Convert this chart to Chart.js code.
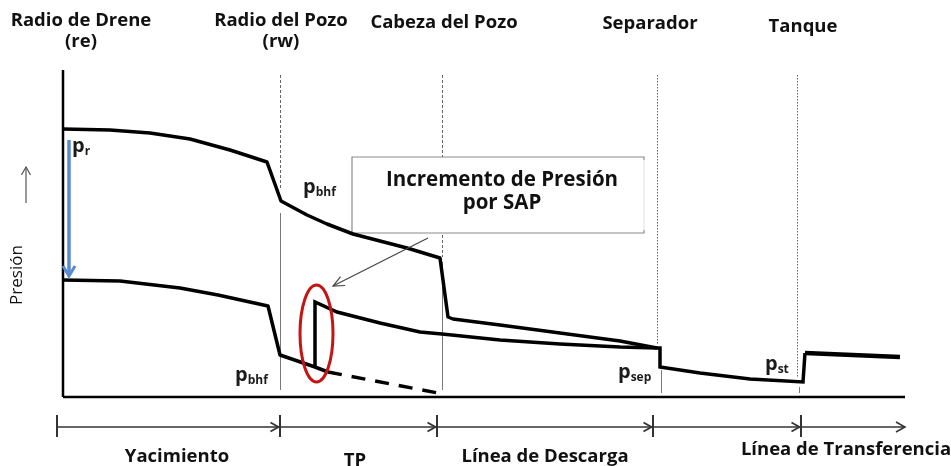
<!DOCTYPE html>
<html>
<head>
<meta charset="utf-8">
<script src="https://cdn.jsdelivr.net/npm/chart.js@4.4.0/dist/chart.umd.min.js"></script>
<style>
  html, body { margin: 0; padding: 0; background: #fff; }
  #wrap { width: 951px; height: 466px; position: relative; }
</style>
</head>
<body>
<div id="wrap"><canvas id="chart"></canvas></div>
<script>
// Pressure profile along the production system
// x = distance along the flow path, y = pressure (arbitrary units)

const stationX = [0, 217, 379, 594, 734];
const stationNames = [['Radio de Drene', '(re)'], ['Radio del Pozo', '(rw)'], ['Cabeza del Pozo'], ['Separador'], ['Tanque']];
const segmentBounds = [-6, 217, 374, 590, 738];
const segmentEnd = 842;
const segmentNames = ['Yacimiento', 'TP', 'Línea de Descarga', 'Línea de Transferencia'];

const distMax = 842;
const presMax = 327;

// upper profile (pr -> pbhf -> wellhead -> separator)
const upperX = [0, 47, 87, 127, 167, 204, 218, 244, 264, 290, 317, 344, 377, 385, 390, 437, 497, 557, 594];
const upperY = [268, 267, 264, 258, 247, 235, 196, 182, 173, 163, 156, 149, 139, 80, 78, 72, 64, 56, 49];

// lower profile, reservoir down to the SAP
const lowerX = [0, 57, 117, 155, 205, 217, 252, 265];
const lowerY = [117, 116, 109, 102, 91, 42, 30, 25];

// lower profile after the SAP boost, to the tank
const boostX = [252, 252, 274, 317, 357, 379, 437, 497, 557, 594, 597, 597, 637, 687, 740, 742];
const boostY = [30, 95, 85, 74, 65, 63, 57, 53, 50, 49, 49, 30, 24, 18, 15, 44];

// transfer line after the tank
const tankX = [742, 837];
const tankY = [44, 40];

// tubing pressure without SAP (dashed)
const noSapX = [265, 375];
const noSapY = [25, 4];

// drawdown arrow pr -> pwf
const drawdownX = 6;
const drawdownY = [257, 121];

function toPoints(xs, ys) {
  return xs.map((x, i) => ({ x: x, y: ys[i] }));
}

function lineSet(xs, ys, extra) {
  return Object.assign({
    data: toPoints(xs, ys),
    showLine: true,
    borderColor: '#000',
    borderWidth: 3.5,
    pointRadius: 0,
    tension: 0,
    borderJoinStyle: 'round',
    fill: false
  }, extra || {});
}

const FONT = '"Open Sans", "DejaVu Sans", sans-serif';

function arrowHead(ctx, x1, y1, x2, y2, len, half) {
  const a = Math.atan2(y2 - y1, x2 - x1);
  ctx.beginPath();
  ctx.moveTo(x2 - len * Math.cos(a) + half * Math.sin(a), y2 - len * Math.sin(a) - half * Math.cos(a));
  ctx.lineTo(x2, y2);
  ctx.lineTo(x2 - len * Math.cos(a) - half * Math.sin(a), y2 - len * Math.sin(a) + half * Math.cos(a));
  ctx.stroke();
}

function drawSub(ctx, base, sub, x, y) {
  ctx.textAlign = 'left';
  ctx.textBaseline = 'alphabetic';
  ctx.fillStyle = '#1b1b1b';
  ctx.font = 'bold 20px ' + FONT;
  ctx.fillText(base, x, y);
  const w = ctx.measureText(base).width;
  ctx.font = 'bold 12px ' + FONT;
  ctx.fillText(sub, x + w, y + 3);
}

const sketchPlugin = {
  id: 'sketch',
  beforeDatasetsDraw(chart) {
    const ctx = chart.ctx;
    const xs = chart.scales.x, ys = chart.scales.y;
    const px = v => xs.getPixelForValue(v);
    const py = v => ys.getPixelForValue(v);
    ctx.save();

    // station guide lines
    const guides = [
      { x: stationX[1], top: 322, bot: 207, dash: [3, 2], sx: stationX[1], sTop: 184, sBot: 7 },
      { x: stationX[2], top: 322, bot: 140, dash: [3, 2], sx: stationX[2], sTop: 135, sBot: 7 },
      { x: stationX[3], top: 322, bot: 52, dash: [1.5, 1.5], sx: stationX[3] + 4, sTop: 27, sBot: 4 },
      { x: stationX[4], top: 322, bot: 19, dash: [1.5, 1.5], sx: stationX[4] + 2, sTop: 10, sBot: 4 }
    ];
    guides.forEach(g => {
      ctx.strokeStyle = '#666';
      ctx.lineWidth = 1;
      ctx.setLineDash(g.dash);
      ctx.beginPath();
      ctx.moveTo(Math.round(px(g.x)) + 0.5, py(g.top));
      ctx.lineTo(Math.round(px(g.x)) + 0.5, py(g.bot));
      ctx.stroke();
      ctx.setLineDash([]);
      ctx.strokeStyle = '#777';
      ctx.beginPath();
      ctx.moveTo(Math.round(px(g.sx)) + 0.5, py(g.sTop));
      ctx.lineTo(Math.round(px(g.sx)) + 0.5, py(g.sBot));
      ctx.stroke();
    });

    // callout box
    const bx1 = px(289), bx2 = px(581), by1 = py(240), by2 = py(164);
    ctx.fillStyle = '#fff';
    ctx.fillRect(bx1, by1, bx2 - bx1, by2 - by1);
    ctx.strokeStyle = '#8a8a8a';
    ctx.lineWidth = 1.2;
    ctx.beginPath();
    ctx.moveTo(bx2, by1 + 3);
    ctx.lineTo(bx2, by1);
    ctx.lineTo(bx1, by1);
    ctx.lineTo(bx1, by2);
    ctx.lineTo(bx2, by2);
    ctx.lineTo(bx2, by2 - 3);
    ctx.stroke();
    ctx.strokeStyle = '#e4e4e4';
    ctx.beginPath();
    ctx.moveTo(bx2, by1 + 3);
    ctx.lineTo(bx2, by2 - 3);
    ctx.stroke();

    ctx.fillStyle = '#111';
    ctx.textAlign = 'center';
    ctx.textBaseline = 'middle';
    ctx.font = 'bold 20.5px ' + FONT;
    ctx.fillText('Incremento de Presión', px(439), py(217));
    ctx.fillText('por SAP', px(439), py(194));
    ctx.restore();
  },
  afterDatasetsDraw(chart) {
    const ctx = chart.ctx;
    const xs = chart.scales.x, ys = chart.scales.y;
    const px = v => xs.getPixelForValue(v);
    const py = v => ys.getPixelForValue(v);
    ctx.save();

    // drawdown arrow (blue)
    ctx.strokeStyle = '#5a8ad0';
    ctx.lineWidth = 3.5;
    ctx.lineCap = 'butt';
    ctx.beginPath();
    ctx.moveTo(px(drawdownX), py(drawdownY[0]));
    ctx.lineTo(px(drawdownX), py(drawdownY[1]) - 1);
    ctx.stroke();
    ctx.lineWidth = 3;
    arrowHead(ctx, px(drawdownX), py(drawdownY[0]), px(drawdownX), py(drawdownY[1]), 10, 6);

    // red ellipse around the SAP jump
    ctx.strokeStyle = '#c41414';
    ctx.lineWidth = 3;
    ctx.beginPath();
    ctx.ellipse(px(253.5), py(63.5), px(253.5 + 16.5) - px(253.5), py(63.5) - py(63.5 + 48.5), 0, 0, Math.PI * 2);
    ctx.stroke();

    // callout arrow
    ctx.strokeStyle = '#444';
    ctx.lineWidth = 1.2;
    ctx.beginPath();
    ctx.moveTo(px(365), py(159));
    ctx.lineTo(px(270), py(111));
    ctx.stroke();
    arrowHead(ctx, px(365), py(159), px(270), py(111), 11, 5);

    // pressure up arrow + label
    ctx.strokeStyle = '#555';
    ctx.lineWidth = 1.2;
    ctx.beginPath();
    ctx.moveTo(px(-37), py(194));
    ctx.lineTo(px(-37), py(230));
    ctx.stroke();
    arrowHead(ctx, px(-37), py(194), px(-37), py(230), 8, 4.5);

    ctx.save();
    ctx.translate(px(-46), py(122));
    ctx.rotate(-Math.PI / 2);
    ctx.fillStyle = '#111';
    ctx.font = '17px ' + FONT;
    ctx.textAlign = 'center';
    ctx.textBaseline = 'middle';
    ctx.fillText('Presión', 0, 0);
    ctx.restore();

    // bottom segment dimension line
    const dy = py(-30);
    ctx.strokeStyle = '#333';
    ctx.lineWidth = 1.5;
    ctx.beginPath();
    ctx.moveTo(px(segmentBounds[0]), dy);
    ctx.lineTo(px(segmentEnd), dy);
    ctx.stroke();
    segmentBounds.forEach((b, i) => {
      ctx.lineWidth = 2;
      ctx.beginPath();
      ctx.moveTo(px(b), py(-18));
      ctx.lineTo(px(b), py(-40));
      ctx.stroke();
      if (i > 0) {
        ctx.lineWidth = 1.8;
        arrowHead(ctx, px(b - 20), dy, px(b) - 1.5, dy, 8, 4.5);
      }
    });
    ctx.lineWidth = 1.5;
    arrowHead(ctx, px(segmentEnd - 20), dy, px(segmentEnd), dy, 9, 5);

    // top station labels
    ctx.fillStyle = '#111';
    ctx.textAlign = 'center';
    ctx.textBaseline = 'middle';
    ctx.font = 'bold 18.5px ' + FONT;
    const topPos = [[18, 376], [218, 376], [381, 374], [587, 373], [740, 370]];
    stationNames.forEach((lines, i) => {
      lines.forEach((t, j) => {
        ctx.fillText(t, px(topPos[i][0]), py(topPos[i][1] - j * 21));
      });
    });

    // bottom segment labels
    const botPos = [[114, -60], [292, -64], [482, -60], [783, -53]];
    segmentNames.forEach((t, i) => {
      ctx.fillText(t, px(botPos[i][0]), py(botPos[i][1]));
    });

    // pressure point labels
    drawSub(ctx, 'p', 'r', px(9), py(245));
    drawSub(ctx, 'p', 'bhf', px(240), py(204));
    drawSub(ctx, 'p', 'bhf', px(172), py(16));
    drawSub(ctx, 'p', 'sep', px(555), py(19));
    drawSub(ctx, 'p', 'st', px(702), py(27));

    ctx.restore();
  }
};

const ctx = document.getElementById('chart').getContext('2d');
new Chart(ctx, {
  type: 'scatter',
  data: {
    datasets: [
      lineSet([0, 0], [0, presMax], { borderWidth: 2.5, borderJoinStyle: 'miter' }),
      lineSet([0, distMax], [0, 0], { borderWidth: 2.5 }),
      lineSet(upperX, upperY),
      lineSet(lowerX, lowerY),
      lineSet(boostX, boostY, { borderJoinStyle: 'miter' }),
      lineSet(tankX, tankY, { borderWidth: 4.5 }),
      lineSet(noSapX, noSapY, { borderDash: [14, 10] })
    ]
  },
  options: {
    responsive: true,
    maintainAspectRatio: false,
    animation: false,
    layout: { padding: 0 },
    plugins: {
      legend: { display: false },
      tooltip: { enabled: false }
    },
    scales: {
      x: { type: 'linear', display: false, min: -63, max: 888 },
      y: { type: 'linear', display: false, min: -69, max: 397 }
    }
  },
  plugins: [sketchPlugin]
});
</script>
</body>
</html>
